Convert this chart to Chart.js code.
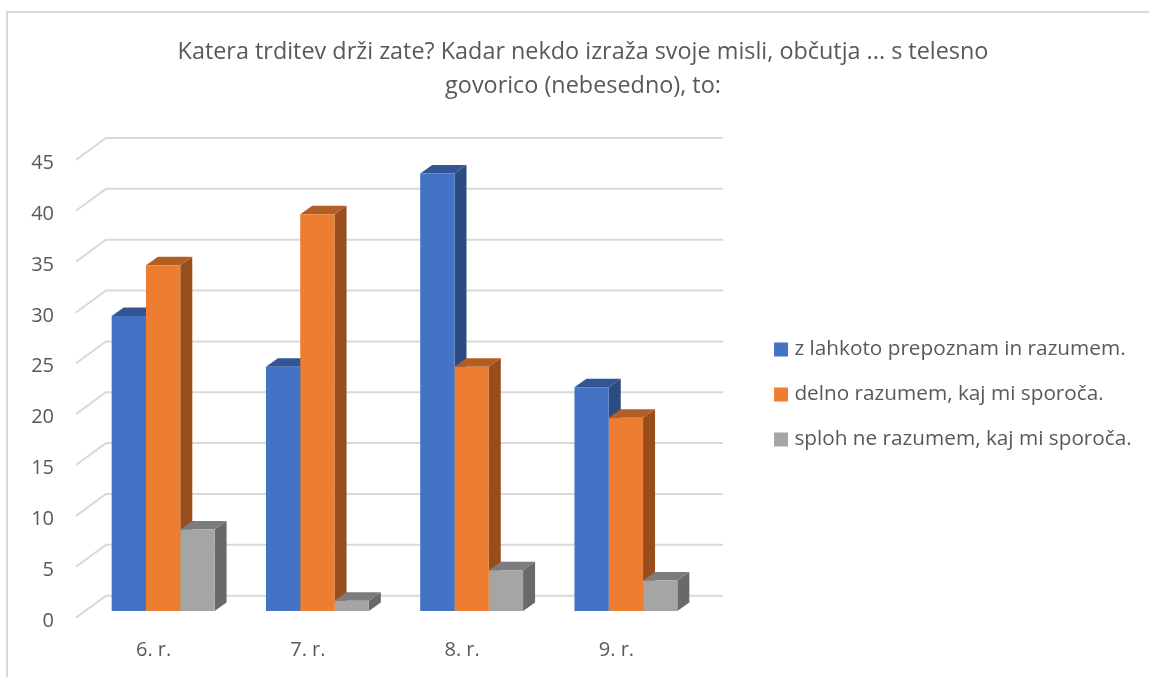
<!DOCTYPE html>
<html lang="sl">
  <head>
    <meta charset="UTF-8" />
    <title>Katera trditev drži zate?</title>
    <script src="https://cdn.jsdelivr.net/npm/chart.js"></script>
    <style>
      html, body { margin: 0; height: 100%; background: #fff; overflow: hidden; }
      #frame {
        position: absolute; left: 6px; top: 11px; right: 0; bottom: 0;
        border-left: 2px solid #d9d9d9; border-top: 2px solid #d9d9d9;
      }
    </style>
  </head>
  <body>
    <div id="frame"><canvas id="chart" width="1141" height="664"></canvas></div>

    <script>
      const categories = ["6. r.", "7. r.", "8. r.", "9. r."];
      const seriesNames = [
        "z lahkoto prepoznam in razumem.",
        "delno razumem, kaj mi sporoča.",
        "sploh ne razumem, kaj mi sporoča."
      ];
      const easily = [29, 24, 43, 22];
      const partly = [34, 39, 24, 19];
      const notAtAll = [8, 1, 4, 3];
      const yMax = 45;
      const yStep = 5;
      const titleLines = [
        "Katera trditev drži zate? Kadar nekdo izraža svoje misli, občutja ... s telesno",
        "govorico (nebesedno), to:"
      ];

      const frontColors = ["#4472c4", "#ed7d31", "#a5a5a5"];
      const topColors = ["#335593", "#b25e25", "#7c7c7c"];
      const sideColors = ["#2c4b82", "#984e1c", "#696969"];
      const textColor = "#595959";
      const gridColor = "#d9d9d9";

      // fake 3d: bars stand in the middle of the floor, walls behind them
      const depth = { barX: 12, barY: 8.5, backX: 20, backY: 15.3, frontX: 10, frontY: 6.6 };

      function polygon(ctx, color, pts) {
        ctx.fillStyle = color;
        ctx.beginPath();
        pts.forEach((p, i) => (i ? ctx.lineTo(p[0], p[1]) : ctx.moveTo(p[0], p[1])));
        ctx.closePath();
        ctx.fill();
      }

      const walls = {
        id: "walls",
        afterLayout(chart) {
          // the layout caps a side legend at a quarter of the width, so place it by hand
          const legend = chart.legend;
          const dy = 381.5 - (legend.top + legend.bottom) / 2;
          legend.left = 745.8;
          legend.right = 1141;
          legend.top += dy;
          legend.bottom += dy;
          const title = chart.titleBlock;
          const dx = 575 - (title.left + title.right) / 2;
          title.left += dx;
          title.right += dx;
        },
        beforeDatasetsDraw(chart) {
          const { ctx, scales } = chart;
          const { x, y } = scales;
          ctx.save();
          ctx.strokeStyle = gridColor;
          ctx.lineWidth = 2;
          y.ticks.forEach((tick) => {
            const py = y.getPixelForValue(tick.value);
            ctx.beginPath();
            ctx.moveTo(x.left - depth.frontX, py + depth.frontY);
            ctx.lineTo(x.left + depth.backX, py - depth.backY);
            ctx.lineTo(x.right + depth.backX, py - depth.backY);
            ctx.stroke();
          });
          chart.data.datasets.forEach((ds, i) => {
            chart.getDatasetMeta(i).data.forEach((bar) => {
              const l = bar.x - bar.width / 2;
              const r = bar.x + bar.width / 2;
              const dx = depth.barX;
              const dy = depth.barY;
              polygon(ctx, sideColors[i], [[r, bar.y], [r + dx, bar.y - dy], [r + dx, bar.base - dy], [r, bar.base]]);
              polygon(ctx, topColors[i], [[l, bar.y], [l + dx, bar.y - dy], [r + dx, bar.y - dy], [r, bar.y]]);
            });
          });
          ctx.restore();
        }
      };

      new Chart(document.getElementById("chart"), {
        type: "bar",
        data: {
          labels: categories,
          datasets: [easily, partly, notAtAll].map((values, i) => ({
            label: seriesNames[i],
            data: values,
            backgroundColor: frontColors[i],
            borderWidth: 0,
            categoryPercentage: 0.667,
            barPercentage: 1
          }))
        },
        options: {
          responsive: false,
          animation: false,
          layout: { padding: { right: 214.3 } },
          plugins: {
            title: {
              display: true,
              text: titleLines,
              color: textColor,
              font: { family: "'Open Sans'", size: 23.4, weight: "normal", lineHeight: 1.45 },
              padding: { top: 22, bottom: 50.4 }
            },
            legend: {
              position: "right",
              labels: {
                color: textColor,
                font: { family: "'Open Sans'", size: 20.76 },
                boxWidth: 6,
                boxHeight: 6,
                padding: 24.24,
                generateLabels(chart) {
                  return seriesNames.map((text, i) => ({
                    text,
                    fontColor: textColor,
                    fillStyle: frontColors[i],
                    strokeStyle: frontColors[i],
                    lineWidth: 8,
                    datasetIndex: i
                  }));
                }
              }
            },
            tooltip: { enabled: false }
          },
          scales: {
            x: {
              grid: { display: false },
              border: { display: false },
              ticks: {
                color: textColor,
                font: { family: "'Open Sans'", size: 20 },
                padding: 19,
                labelOffset: -9.5,
                maxRotation: 0
              },
              afterFit(scale) { scale.height = 66; }
            },
            y: {
              min: 0,
              max: yMax,
              grid: { display: false },
              border: { display: false },
              ticks: {
                stepSize: yStep,
                color: textColor,
                font: { family: "'Open Sans'", size: 20 },
                padding: 24,
                labelOffset: 10
              },
              afterFit(scale) { scale.width = 78; }
            }
          }
        },
        plugins: [walls]
      });
    </script>
  </body>
</html>
